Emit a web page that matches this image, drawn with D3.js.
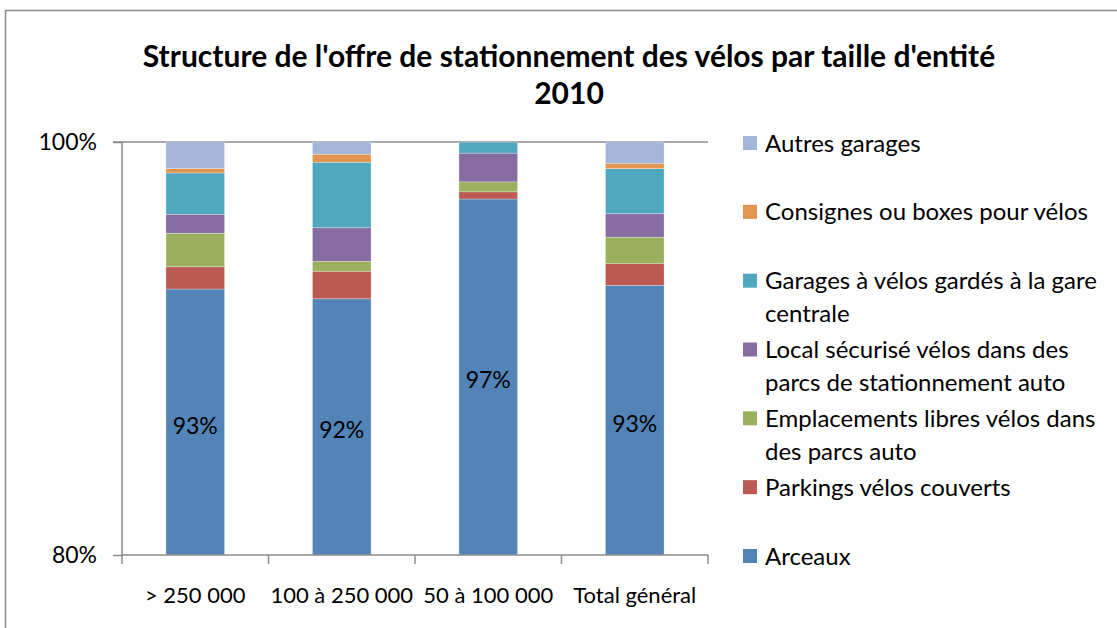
<!DOCTYPE html>
<html>
<head>
<meta charset="utf-8">
<script src="https://cdn.jsdelivr.net/npm/d3@7"></script>
<style>
  body { margin: 0; background: #fff; }
  text { font-family: Lato, "Open Sans", sans-serif; fill: #000; }
</style>
</head>
<body>
<div id="viz"></div>
<script>
// data (share of each kind of parking, in %)
var categories = ["> 250 000", "100 à 250 000", "50 à 100 000", "Total général"];
var series = ["Arceaux", "Parkings vélos couverts", "Emplacements libres vélos dans des parcs auto",
  "Local sécurisé vélos dans des parcs de stationnement auto", "Garages à vélos gardés à la gare centrale",
  "Consignes ou boxes pour vélos", "Autres garages"];
var arceaux      = [92.88, 92.41, 97.24, 93.06];
var couverts     = [1.08, 1.33, 0.35, 1.05];
var libres       = [1.62, 0.48, 0.48, 1.28];
var local        = [0.92, 1.63, 1.39, 1.14];
var gare         = [2.00, 3.17, 0.53, 2.18];
var consignes    = [0.21, 0.39, 0.00, 0.26];
var autres       = [1.29, 0.60, 0.00, 1.03];
var barLabels    = ["93%", "92%", "97%", "93%"];
var yTicks = [0.8, 1.0];
// legend text split on two lines like the original
var legendLines = {
  "Autres garages": ["Autres garages"],
  "Consignes ou boxes pour vélos": ["Consignes ou boxes pour vélos"],
  "Garages à vélos gardés à la gare centrale": ["Garages à vélos gardés à la gare", "centrale"],
  "Local sécurisé vélos dans des parcs de stationnement auto": ["Local sécurisé vélos dans des", "parcs de stationnement auto"],
  "Emplacements libres vélos dans des parcs auto": ["Emplacements libres vélos dans", "des parcs auto"],
  "Parkings vélos couverts": ["Parkings vélos couverts"],
  "Arceaux": ["Arceaux"]
};
var colors = ["#5384B7", "#BA5A52", "#9BB05E", "#866CA0", "#4FA8BF", "#E3954F", "#A3B6D9"];

var rows = categories.map(function(c, i) {
  var r = {cat: c};
  var vals = [arceaux, couverts, libres, local, gare, consignes, autres];
  series.forEach(function(s, k) { r[s] = vals[k][i] / 100; });
  return r;
});

var W = 1117, H = 628;
var svg = d3.select("#viz").append("svg")
  .attr("width", W)
  .attr("height", H);

// chart frame
svg.append("path")
  .attr("d", "M5.5," + H + "V10.5H" + W)
  .style("fill", "none").style("stroke", "#8c8c8c").style("stroke-width", 1.5);

var pLeft = 122, pRight = 708, pTop = 142, pBottom = 555;

var x = d3.scaleBand().domain(categories).range([pLeft, pRight])
  .paddingInner(0.6).paddingOuter(0.3);
var y = d3.scaleLinear().domain([0.8, 1]).range([pBottom, pTop]).clamp(true);
var color = d3.scaleOrdinal().domain(series).range(colors);

// title
svg.append("text")
  .attr("x", 569).attr("y", 67)
  .attr("text-anchor", "middle")
  .style("font-weight", "bold").style("font-size", "30px")
  .text("Structure de l'offre de stationnement des vélos par taille d'entité");
svg.append("text")
  .attr("x", 569).attr("y", 104)
  .attr("text-anchor", "middle")
  .style("font-weight", "bold").style("font-size", "30px")
  .text("2010");

// gridline at 100%
svg.append("line")
  .attr("x1", pLeft - 9).attr("x2", pRight)
  .attr("y1", y(1)).attr("y2", y(1))
  .style("stroke", "#8c8c8c").style("stroke-width", 1.5);

// stacked bars
var stack = d3.stack().keys(series)(rows);
svg.selectAll("g.layer").data(stack).enter()
  .append("g").attr("class", "layer")
  .style("fill", function(d) { return color(d.key); })
  .selectAll("rect").data(function(d) { return d; }).enter()
  .append("rect")
  .attr("x", function(d) { return x(d.data.cat); })
  .attr("width", x.bandwidth())
  .attr("y", function(d) { return y(d[1]); })
  .attr("height", function(d) { return y(d[0]) - y(d[1]); })
  .style("stroke", "rgba(255,255,255,0.35)")
  .style("stroke-width", 0.8);

// value labels in the Arceaux segment
svg.selectAll("text.val").data(stack[0]).enter()
  .append("text").attr("class", "val")
  .attr("x", function(d) { return x(d.data.cat) + x.bandwidth() / 2; })
  .attr("y", function(d) { return (y(d[0]) + y(d[1])) / 2; })
  .attr("dy", "0.5em")
  .attr("text-anchor", "middle")
  .style("font-size", "23px")
  .text(function(d, i) { return barLabels[i]; });

// y axis
var yAxis = d3.axisLeft(y).tickValues(yTicks).tickFormat(d3.format(".0%")).tickSize(9).tickPadding(16);
var gy = svg.append("g").attr("transform", "translate(" + pLeft + ",0)").call(yAxis);
gy.select(".domain").style("stroke", "#8c8c8c").style("stroke-width", 1.5).attr("d", "M0," + pTop + "V" + pBottom);
gy.selectAll(".tick line").style("stroke", "#8c8c8c").style("stroke-width", 1.5);
gy.selectAll("text").style("font-size", "23px").style("font-family", "Lato, sans-serif").style("fill", "#000");

// x axis
var xAxis = d3.axisBottom(x).tickSize(0).tickPadding(32);
var gx = svg.append("g").attr("transform", "translate(0," + pBottom + ")").call(xAxis);
gx.select(".domain").style("stroke", "#8c8c8c").style("stroke-width", 1.5).attr("d", "M" + pLeft + ",0H" + pRight);
gx.selectAll("text").style("font-size", "22px").style("font-family", "Lato, sans-serif").style("fill", "#000");
// tick marks between categories
var bounds = categories.map(function(c) { return x(c) - x.step() * x.paddingInner() / 2; });
bounds.push(pRight);
gx.selectAll("line.sep").data(bounds).enter()
  .append("line").attr("class", "sep")
  .attr("x1", function(d) { return d; }).attr("x2", function(d) { return d; })
  .attr("y1", 0).attr("y2", 9)
  .style("stroke", "#8c8c8c").style("stroke-width", 1.5);

// legend, reversed order like the original
var legendY = d3.scalePoint().domain(series.slice().reverse()).range([143, 556]);
var lg = svg.selectAll("g.leg").data(series.slice().reverse()).enter()
  .append("g").attr("class", "leg")
  .attr("transform", function(d) { return "translate(743," + legendY(d) + ")"; });
lg.append("rect")
  .attr("x", 0).attr("y", -7).attr("width", 14).attr("height", 14)
  .style("fill", function(d) { return color(d); });
lg.each(function(d) {
  var g = d3.select(this);
  legendLines[d].forEach(function(line, j) {
    g.append("text")
      .attr("x", 22).attr("y", j * 33)
      .attr("dy", "0.36em")
      .style("font-size", "24px")
      .text(line);
  });
});
</script>
</body>
</html>
